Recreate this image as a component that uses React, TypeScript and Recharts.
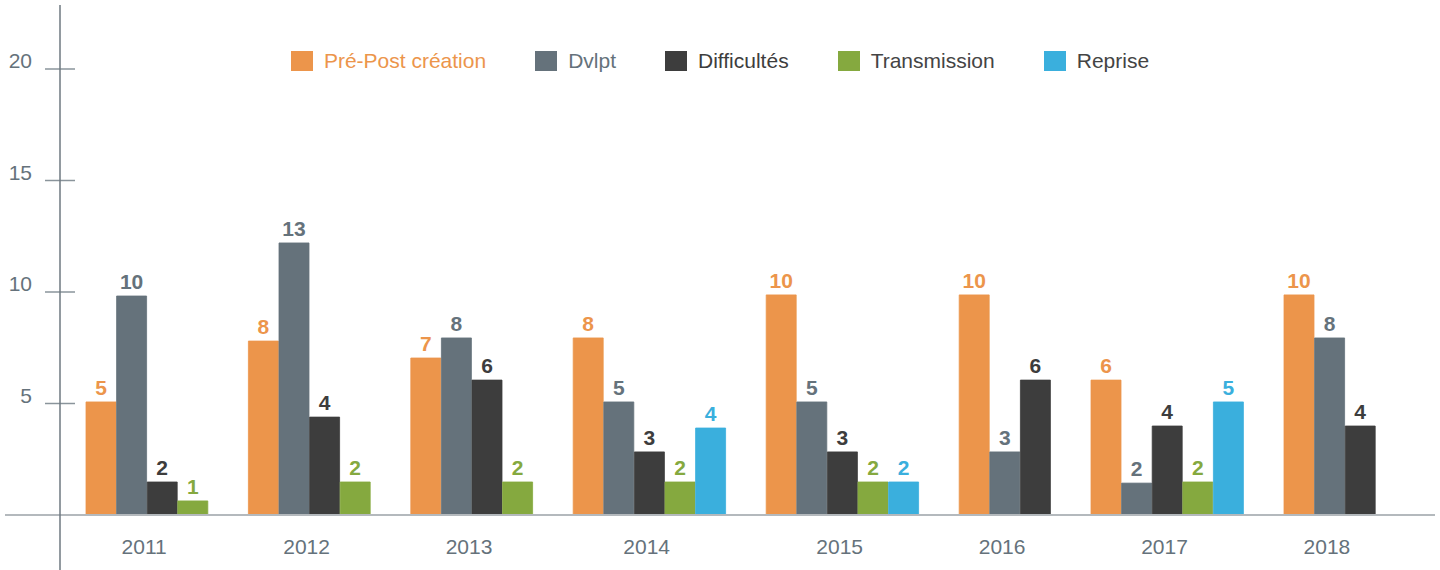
import { BarChart, Bar, XAxis, YAxis, Cell, LabelList, Legend, ReferenceLine } from 'recharts';

const years = ['2011', '2012', '2013', '2014', '2015', '2016', '2017', '2018'];

// bar heights as drawn, printed labels kept apart
const prePost = [5.07, 7.8, 7.04, 7.94, 9.87, 9.87, 6.05, 9.87];
const dvlpt = [9.82, 12.2, 7.94, 5.07, 5.07, 2.83, 1.43, 7.94];
const difficultes = [1.48, 4.39, 6.05, 2.83, 2.83, 6.05, 3.99, 3.99];
const transmission = [0.63, 1.48, 1.48, 1.48, 1.48, null, 1.48, null];
const reprise = [null, null, null, 3.9, 1.48, null, 5.07, null];

const prePostLabels = [5, 8, 7, 8, 10, 10, 6, 10];
const dvlptLabels = [10, 13, 8, 5, 5, 3, 2, 8];
const difficultesLabels = [2, 4, 6, 3, 3, 6, 4, 4];
const transmissionLabels = [1, 2, 2, 2, 2, null, 2, null];
const repriseLabels = [null, null, null, 4, 2, null, 5, null];

const yTicks = [5, 10, 15, 20];

const series = [
  { name: 'Pré-Post création', color: '#ec954b', text: '#ec954b', values: prePost, labels: prePostLabels },
  { name: 'Dvlpt', color: '#65727b', text: '#65727b', values: dvlpt, labels: dvlptLabels },
  { name: 'Difficultés', color: '#3d3d3d', text: '#3d3d3d', values: difficultes, labels: difficultesLabels },
  { name: 'Transmission', color: '#85a93f', text: '#444444', values: transmission, labels: transmissionLabels },
  { name: 'Reprise', color: '#3aafdd', text: '#444444', values: reprise, labels: repriseLabels },
];

// groups are packed: only bars that exist take room
const BAR_W = 30.6;
const GROUP_GAP = 40;
const LEAD = 26;
const X_MAX = 1375;
const Y_MAX = 22.87;
const Y_MIN_LINE = -2.47;

type Row = { x: number; h: number; label: number | null; color: string };
const rows: Row[] = [];
const groupCenters: number[] = [];
let cursor = LEAD;
years.forEach((_, g) => {
  const start = cursor;
  series.forEach((s) => {
    const v = s.values[g];
    if (v == null) return;
    rows.push({ x: cursor + BAR_W / 2, h: v, label: s.labels[g], color: s.color });
    cursor += BAR_W;
  });
  groupCenters.push((start + cursor) / 2);
  cursor += GROUP_GAP;
});

const font = '"Liberation Sans", Arial, sans-serif';

const renderLegend = () => (
  <div style={{ display: 'flex', justifyContent: 'center', alignItems: 'center', fontFamily: font, fontSize: 21 }}>
    {series.map((s, i) => (
      <div key={s.name} style={{ display: 'flex', alignItems: 'center', marginLeft: i ? 49 : 0 }}>
        <span style={{ display: 'inline-block', width: 22, height: 20, background: s.color, marginRight: 11 }} />
        <span style={{ color: s.text, lineHeight: '24px' }}>{s.name}</span>
      </div>
    ))}
  </div>
);

const renderValue = (props: any) => {
  const { x, y, width, index, value } = props;
  if (value == null) return null;
  return (
    <text
      x={x + width / 2}
      y={y - 7}
      textAnchor="middle"
      fill={rows[index].color}
      fontSize={21}
      fontWeight="bold"
      fontFamily={font}
    >
      {value}
    </text>
  );
};

export default function App() {
  return (
    <div style={{ position: 'absolute', left: 0, top: 0, fontFamily: font, background: '#fff' }}>
      <BarChart width={1440} height={570} data={rows} margin={{ top: 5, right: 5, bottom: 0, left: 5 }}>
        <XAxis
          type="number"
          dataKey="x"
          domain={[0, X_MAX]}
          ticks={groupCenters}
          interval={0}
          tickFormatter={(v) => years[groupCenters.indexOf(v)] ?? ''}
          axisLine={false}
          tickLine={false}
          tickSize={0}
          tickMargin={24}
          height={55}
          tick={{ fill: '#65727b', fontSize: 21, dx: -3 }}
        />
        <YAxis
          type="number"
          domain={[0, Y_MAX]}
          ticks={yTicks}
          axisLine={false}
          tickLine={false}
          tickSize={0}
          tickMargin={28}
          width={55}
          tick={{ fill: '#65727b', fontSize: 21, dy: -8 }}
        />
        <Legend
          layout="horizontal"
          verticalAlign="middle"
          align="center"
          content={renderLegend}
          wrapperStyle={{ top: 49, left: 0, width: 1440 }}
        />
        <Bar dataKey="h" barSize={30} isAnimationActive={false}>
          {rows.map((r, i) => (
            <Cell key={`c-${i}`} fill={r.color} stroke={r.color} strokeWidth={0.8} />
          ))}
          <LabelList dataKey="label" content={renderValue} />
        </Bar>
        {yTicks.map((t) => (
          <ReferenceLine
            key={`t-${t}`}
            segment={[{ x: -15, y: t }, { x: 15, y: t }]}
            stroke="#8a949b"
            strokeWidth={1.5}
            ifOverflow="visible"
          />
        ))}
        <ReferenceLine
          segment={[{ x: -55, y: 0 }, { x: X_MAX, y: 0 }]}
          stroke="#b4b9bd"
          strokeWidth={2}
          ifOverflow="visible"
        />
        <ReferenceLine
          segment={[{ x: 0, y: Y_MIN_LINE }, { x: 0, y: Y_MAX }]}
          stroke="#6e7880"
          strokeWidth={1.5}
          ifOverflow="visible"
        />
      </BarChart>
    </div>
  );
}
